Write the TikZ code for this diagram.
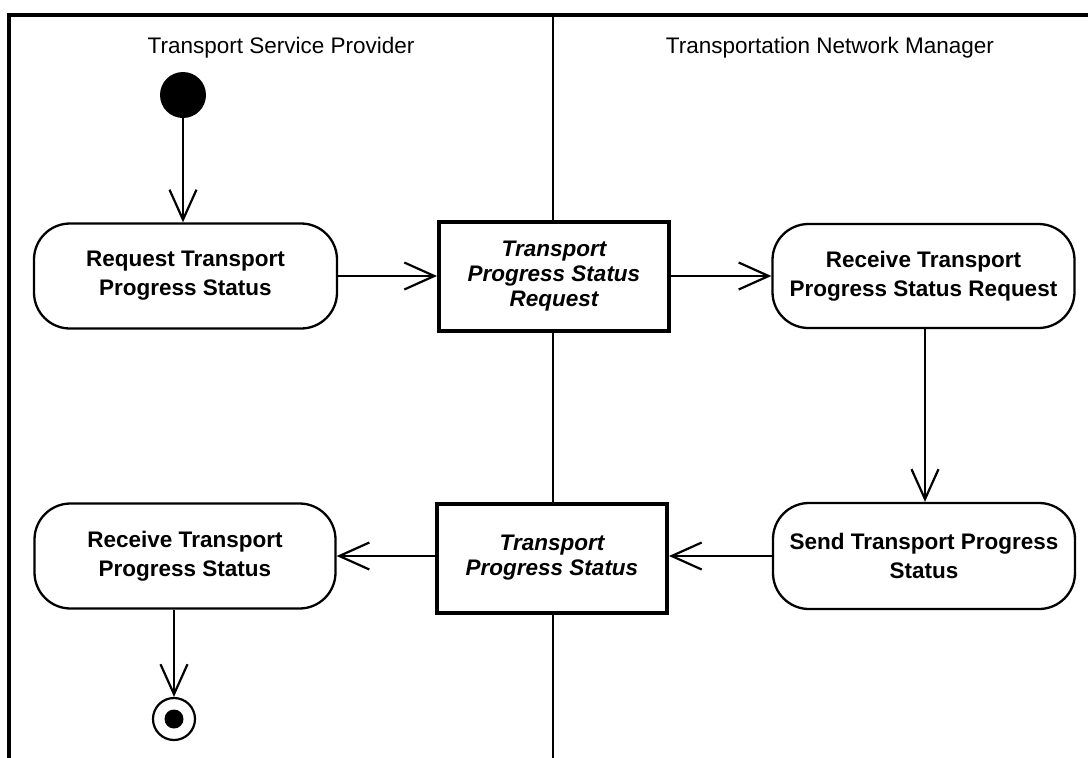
\documentclass[tikz,border=0pt]{standalone}
\usepackage{fontspec}
\setmainfont{Liberation Sans}
\usetikzlibrary{arrows.meta}
\begin{document}
\begin{tikzpicture}[x=1pt,y=-1pt,
  action/.style={draw,line width=2.3pt,rounded corners=36pt,align=center,
    font=\fontsize{22.5}{29}\selectfont\bfseries,inner sep=0pt},
  objbox/.style={draw,line width=4pt,fill=white,align=center,
    font=\fontsize{22.5}{25}\selectfont\bfseries\itshape,inner sep=0pt},
  lane/.style={font=\fontsize{22.5}{27}\selectfont,anchor=base},
  flow/.style={line width=2.2pt,-{Straight Barb[length=30pt,width=27pt,line width=2.2pt]}},
  frameline/.style={line width=3.5pt}
]
\useasboundingbox (0,0) rectangle (1088,758);
% frame and swimlanes
\coordinate (ftl) at (9,15);
\coordinate (ftr) at (1090,15);
\coordinate (fbl) at (9,760);
\coordinate (dtop) at (553,15);
\coordinate (dbot) at (553,760);
\draw[frameline] (fbl) -- (ftl) -- (ftr);
\draw[line width=2pt] (dtop) -- (dbot);
\node[lane] (lane1) at (281,53) {Transport Service Provider};
\node[lane] (lane2) at (830,53) {Transportation Network Manager};
% nodes
\node[circle,fill=black,minimum size=46pt,inner sep=0pt] (start) at (183,95) {};
\node[action,minimum width=303pt,minimum height=105pt] (req) at (185.5,276) {Request Transport\\Progress Status};
\node[objbox,minimum width=230pt,minimum height=109pt] (obj1) at (554,276) {Transport\\Progress Status\\Request};
\node[action,minimum width=302pt,minimum height=104pt] (recreq) at (923.5,276) {Receive Transport\\Progress Status Request};
\node[action,minimum width=302pt,minimum height=106pt] (send) at (924,556) {Send Transport Progress\\Status};
\node[objbox,minimum width=230pt,minimum height=109pt] (obj2) at (552,558) {Transport\\Progress Status};
\node[action,minimum width=301pt,minimum height=105pt] (recst) at (185,556) {Receive Transport\\Progress Status};
\node[circle,draw,line width=2.2pt,minimum size=42pt,inner sep=0pt] (final) at (174,719) {};
\node[circle,fill=black,minimum size=19pt,inner sep=0pt] (finaldot) at (final.center) {};
% connectors
\draw[flow] (start) -- (start |- req.north);
\draw[flow] (req) -- (obj1);
\draw[flow] (obj1) -- (recreq);
\draw[flow] (recreq.south -| 925,0) -- (send.north -| 925,0);
\draw[flow] (send.west) -- (send.west -| obj2.east);
\draw[flow] (obj2.west |- recst.east) -- (recst.east);
\draw[flow] (recst.south -| final) -- (final.north);
\end{tikzpicture}
\end{document}
